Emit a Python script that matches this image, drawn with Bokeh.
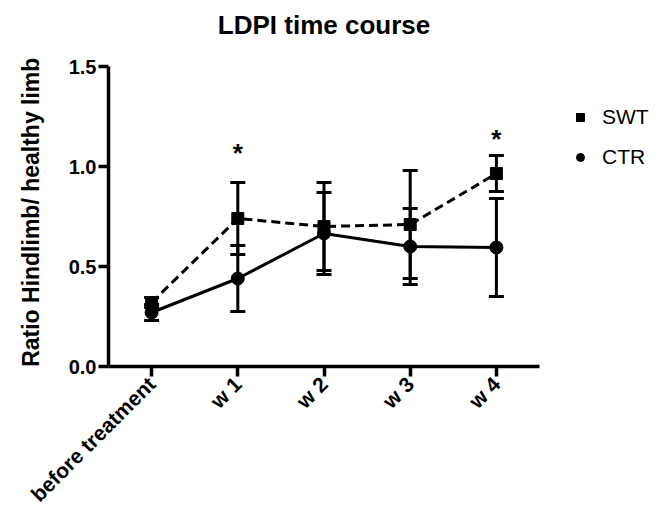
from bokeh.plotting import figure
from bokeh.models import (ColumnDataSource, Whisker, TeeHead, Label, Legend, LegendItem,
                          FixedTicker, Range1d)
from bokeh.embed import file_html
from bokeh.resources import INLINE
import math

categories = ["before treatment", "w 1", "w 2", "w 3", "w 4"]
swt_mean = [0.32, 0.74, 0.70, 0.71, 0.965]
swt_err = [0.025, 0.18, 0.22, 0.27, 0.09]
ctr_mean = [0.27, 0.44, 0.665, 0.60, 0.595]
ctr_err = [0.04, 0.165, 0.205, 0.19, 0.245]
star_index = [1, 4]
star_y = [1.07, 1.14]
y_ticks = [0.0, 0.5, 1.0, 1.5]
title_text = "LDPI time course"
y_label_text = "Ratio Hindlimb/ healthy limb"

FONT = "Liberation Sans"
xs = list(range(len(categories)))
PX_PER_X = 86.2
FRAME_W = 544

p = figure(x_range=Range1d(-0.5, -0.5 + FRAME_W / PX_PER_X), y_range=Range1d(0, 1.83),
           frame_width=FRAME_W, frame_height=366, min_border_left=108, min_border_right=0,
           min_border_top=0, min_border_bottom=138, output_backend="svg",
           toolbar_location=None)
p.outline_line_color = None
p.xgrid.visible = False
p.ygrid.visible = False
p.background_fill_color = "white"

swt = ColumnDataSource(dict(x=xs, y=swt_mean,
                            lo=[m - e for m, e in zip(swt_mean, swt_err)],
                            hi=[m + e for m, e in zip(swt_mean, swt_err)]))
ctr = ColumnDataSource(dict(x=xs, y=ctr_mean,
                            lo=[m - e for m, e in zip(ctr_mean, ctr_err)],
                            hi=[m + e for m, e in zip(ctr_mean, ctr_err)]))

p.line("x", "y", source=swt, line_color="black", line_width=3, line_dash="9 5")
p.line("x", "y", source=ctr, line_color="black", line_width=3)

for src in (swt, ctr):
    w = Whisker(base="x", upper="hi", lower="lo", source=src, line_color="black", line_width=3,
                upper_head=TeeHead(size=15, line_width=3, line_color="black"),
                lower_head=TeeHead(size=15, line_width=3, line_color="black"))
    p.add_layout(w)

r_swt = p.scatter("x", "y", source=swt, marker="square", size=12, color="black")
r_ctr = p.scatter("x", "y", source=ctr, marker="circle", size=13, color="black")

for i, yv in zip(star_index, star_y):
    p.add_layout(Label(x=xs[i], y=yv, text="*", text_font=FONT,
                       text_font_size="26px", text_font_style="bold", text_align="center",
                       text_baseline="middle", text_color="black"))

p.add_layout(Label(x=2.0, y=1.71, text=title_text, text_font=FONT,
                   text_font_size="26px", text_font_style="bold", text_align="center",
                   text_baseline="middle", text_color="black"))

legend = Legend(items=[LegendItem(label="SWT", renderers=[r_swt]),
                       LegendItem(label="CTR", renderers=[r_ctr])],
                location=(462, 197), glyph_width=20, glyph_height=20, spacing=16,
                label_standoff=12, padding=0, margin=0, border_line_color=None,
                background_fill_alpha=0, label_text_font=FONT, label_text_font_size="21px",
                label_text_color="black", label_text_baseline="middle", label_height=20)
p.add_layout(legend, "center")

for ax in (p.xaxis[0], p.yaxis[0]):
    ax.axis_line_width = 3.5
    ax.axis_line_color = "black"
    ax.major_tick_line_width = 3.5
    ax.major_tick_line_color = "black"
    ax.major_tick_out = 10
    ax.major_tick_in = 0
    ax.minor_tick_line_color = None
    ax.major_label_text_font = FONT
    ax.major_label_text_font_style = "bold"
    ax.major_label_text_color = "black"

p.yaxis.bounds = (y_ticks[0], y_ticks[-1])
p.yaxis.ticker = FixedTicker(ticks=y_ticks)
p.yaxis.major_label_overrides = {0.0: "0.0", 0.5: "0.5", 1.0: "1.0", 1.5: "1.5"}
p.yaxis.major_label_text_font_size = "20px"
p.yaxis.major_label_standoff = 2
# trailing no-break spaces shift the centred label down to the centre of the 0-1.5 span
p.yaxis.axis_label = y_label_text + "\u00a0" * 9
p.yaxis.axis_label_text_font = FONT
p.yaxis.axis_label_text_font_size = "23px"
p.yaxis.axis_label_text_font_style = "bold"
p.yaxis.axis_label_text_color = "black"
p.yaxis.axis_label_standoff = 22

p.xaxis.bounds = (-0.5, len(categories) - 0.5)
p.xaxis.ticker = FixedTicker(ticks=xs)
p.xaxis.major_label_overrides = {i: c for i, c in zip(xs, categories)}
p.xaxis.major_label_orientation = math.pi / 4
p.xaxis.major_label_text_font_size = "21px"
p.xaxis.major_label_standoff = 4

open("out.html", "w").write(file_html(p, INLINE))
